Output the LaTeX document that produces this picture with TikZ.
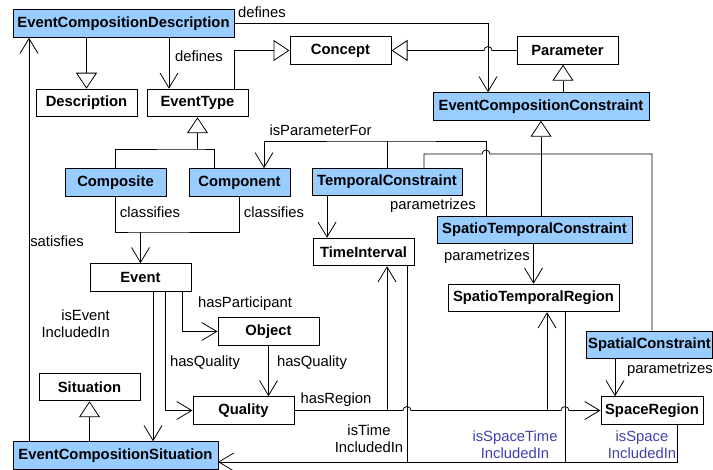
\documentclass[tikz,border=0pt]{standalone}
\usepackage{fontspec}
\setmainfont{Liberation Sans}
\usetikzlibrary{arrows.meta}
\definecolor{ecblue}{RGB}{153,204,255}
\definecolor{inclblue}{RGB}{64,64,170}
\newcommand{\dfont}{\fontsize{14.8}{17}\selectfont}

\begin{document}
\begin{tikzpicture}[x=1pt, y=-1pt,
	box/.style={draw, line width=1pt, font=\dfont\bfseries, minimum width=101pt, minimum height=27.5pt, inner sep=0pt},
	hl/.style={box, fill=ecblue},
	lbl/.style={font=\dfont, inner sep=0pt},
	link/.style={line width=.8pt},
	assoc/.style={link, -{Straight Barb[length=15pt, width=18pt]}},
	gen/.style={link, -{Triangle[open, length=16pt, width=21pt]}}]
	\path[use as bounding box] (0,0) rectangle (713,470);
	
	\node[hl, minimum width=221pt] (ECD) at (123.5,23.5) {EventCompositionDescription};
	\node[box] (Description) at (86.5,103) {Description};
	\node[box] (EventType) at (197.5,103) {EventType};
	\node[box] (Concept) at (340.5,50.5) {Concept};
	\node[box] (Parameter) at (567.5,50.5) {Parameter};
	\node[hl, minimum width=216pt] (ECC) at (541,106.5) {EventCompositionConstraint};
	
	\node[hl] (Composite) at (115.5,182.5) {Composite};
	\node[hl] (Component) at (239.5,182.5) {Component};
	\node[hl, minimum width=150pt] (TC) at (387,182) {TemporalConstraint};
	\node[box] (TimeInterval) at (363.5,252) {TimeInterval};
	\node[hl, minimum width=195pt] (STC) at (534.5,230) {SpatioTemporalConstraint};
	\node[box, minimum width=171pt] (STR) at (533.5,298) {SpatioTemporalRegion};
	\node[hl, minimum width=126pt] (SC) at (649.5,345) {SpatialConstraint};
	\node[box, minimum width=102pt] (SpaceRegion) at (652,410.5) {SpaceRegion};
	
	\node[box] (Event) at (140.5,277.5) {Event};
	\node[box] (Object) at (268.5,331.5) {Object};
	\node[box] (Quality) at (243.5,410.5) {Quality};
	\node[box] (Situation) at (89.5,387) {Situation};
	\node[hl, minimum width=205pt] (ECS) at (115.5,455.5) {EventCompositionSituation};
	
	\coordinate (hopA) at (488,50.5);
	\coordinate (hopB) at (486,154);
	\coordinate (hopT) at (407,410.5);
	\coordinate (hopS) at (565,410.5);
	\coordinate (etj) at (197.5,149);
	\coordinate (clj) at (140.5,232);
	\coordinate (ipf) at (387,141);
	\coordinate (incl) at (218,462);
	
	\draw[gen] (Description.north |- ECD.south) -- (Description.north);
	\draw[gen] (EventType.north -| 234,0) |- (Concept.west);
	\draw[gen] (Parameter.west) -- ([xshift=4pt]hopA) arc[start angle=0, end angle=180, radius=4pt] -- (Concept.east);
	\draw[gen] (ECC.north -| 563,0) -- (Parameter.south -| 563,0);
	\draw[link] (Composite.north) |- (etj) -| (Component.north -| 214,0);
	\draw[gen] (etj) -- (EventType.south);
	\draw[gen] (ECC.south |- STC.north) -- (ECC.south);
	\draw[gen] (Situation.south |- ECS.north) -- (Situation.south);
	
	\draw[assoc] (ECD.south -| 169,0) -- (EventType.north -| 169,0);
	\draw[assoc] (ECD.east) -| (ECC.north -| hopA);
	\draw[link] (Composite.south) |- (clj) -| (Component.south);
	\draw[assoc] (clj) -- (Event.north);
	\draw[assoc] (STC.north -| hopB) |- (ipf) -| (Component.north -| 264,0);
	\draw[link] (TC.north) -- (ipf);
	\draw[link] (TC.north -| 424,0) |- ([xshift=-4pt]hopB) arc[start angle=180, end angle=0, radius=4pt] -| (SC.north -| 652,0);
	\draw[assoc] (TC.south -| 327,0) -- (TimeInterval.north -| 327,0);
	\draw[assoc] (STR.north |- STC.south) -- (STR.north);
	\draw[assoc] (SC.south -| 615,0) -- (SpaceRegion.north -| 615,0);
	
	\draw[assoc] (Event.south -| 182,0) |- (Object.west);
	\draw[assoc] (Event.south -| 165,0) |- (Quality.west);
	\draw[assoc] (Object.south) -- (Quality.north -| Object.south);
	\draw[assoc] (Event.south -| 153,0) -- (ECS.north -| 153,0);
	\draw[assoc] (ECS.north -| 29,0) -- (ECD.south -| 29,0);
	
	\draw[assoc] (Quality.east) -- ([xshift=-4pt]hopT) arc[start angle=180, end angle=0, radius=4pt]
		-- ([xshift=-4pt]hopS) arc[start angle=180, end angle=0, radius=4pt] -- (SpaceRegion.west);
	\draw[assoc] (Quality.east -| 387,0) -- (TimeInterval.south -| 387,0);
	\draw[assoc] (Quality.east -| 547,0) -- (STR.south -| 547,0);
	\draw[assoc] (SpaceRegion.south -| 677,0) |- (incl);
	\draw[link] (TimeInterval.south -| hopT) |- (incl);
	\draw[link] (STR.south -| hopS) |- (incl);
	
	\node[lbl] (lDefines) at (262,12) {defines};
	\node[lbl] (lDefType) at (199,56) {defines};
	\node[lbl] (lParFor) at (320.5,130) {isParameterFor};
	\node[lbl] (lClsA) at (150,212) {classifies};
	\node[lbl] (lClsB) at (274,212) {classifies};
	\node[lbl] (lParT) at (433,206) {parametrizes};
	\node[lbl] (lParST) at (487,257) {parametrizes};
	\node[lbl] (lParS) at (670,370) {parametrizes};
	\node[lbl] (lSat) at (57,241) {satisfies};
	\node[lbl, align=right, anchor=east] (lEvIncl) at (110,324) {isEvent\\IncludedIn};
	\node[lbl] (lPart) at (245,304) {hasParticipant};
	\node[lbl] (lQualA) at (205,363) {hasQuality};
	\node[lbl] (lQualB) at (312,363) {hasQuality};
	\node[lbl] (lReg) at (336,400) {hasRegion};
	\node[lbl, align=center] (lTimeIncl) at (369,439) {isTime\\IncludedIn};
	\node[lbl, align=center, text=inclblue] (lSTIncl) at (515,445) {isSpaceTime\\IncludedIn};
	\node[lbl, align=center, text=inclblue] (lSIncl) at (642,445) {isSpace\\IncludedIn};
	
\end{tikzpicture}
\end{document}
